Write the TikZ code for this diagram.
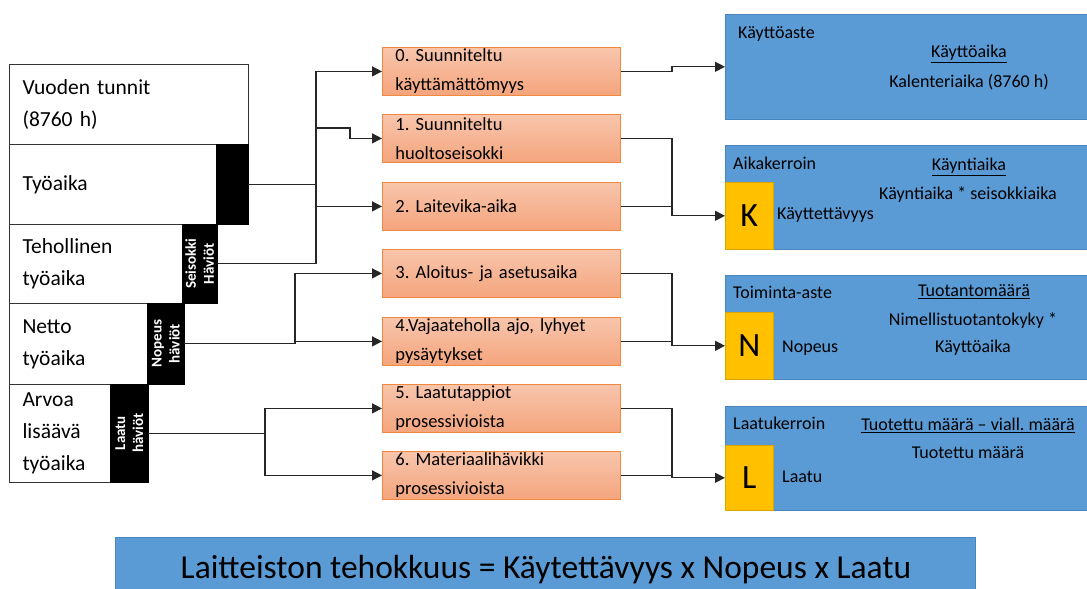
\documentclass[tikz,border=0pt]{standalone}
\usepackage{fontspec}
\setmainfont{Carlito}
\frenchspacing
\usetikzlibrary{arrows.meta}
\definecolor{blueF}{HTML}{5B9BD5}
\definecolor{blueD}{HTML}{4A86BE}
\definecolor{orangeT}{HTML}{F8C5AC}
\definecolor{orangeB}{HTML}{F4A57D}
\definecolor{orangeD}{HTML}{F0883F}
\definecolor{yellowF}{HTML}{FFC000}
\definecolor{yellowD}{HTML}{D9A300}
\tikzset{
  leftbox/.style={draw=black!80, line width=1pt, fill=white, anchor=north west,
    inner xsep=13pt, inner ysep=0pt, align=left, font=\fontsize{21.5}{32}\selectfont},
  barbox/.style={draw=black, fill=black, anchor=north west, inner sep=0pt},
  bartxt/.style={rotate=90, text=white, align=center, inner sep=0pt,
    font=\fontsize{15}{18}\selectfont\bfseries},
  obox/.style={draw=orangeD, line width=0.8pt, top color=orangeT, bottom color=orangeB,
    minimum width=238pt, minimum height=48pt, anchor=north west, text width=212pt,
    inner xsep=13pt, inner ysep=0pt, align=left, font=\fontsize{18.5}{29}\selectfont},
  bbox/.style={draw=blueD, line width=0.6pt, fill=blueF, anchor=north west,
    minimum width=365pt, minimum height=105pt, inner sep=0pt},
  ybox/.style={draw=yellowD, line width=0.6pt, fill=yellowF, anchor=north west,
    minimum width=48pt, inner sep=0pt, font=\fontsize{34}{34}\selectfont},
  btxt/.style={font=\fontsize{18}{20}\selectfont, inner sep=0pt},
  conn/.style={line width=1.3pt, black!85},
  arr/.style={conn, -{Triangle[length=10pt,width=10pt]}}
}
\begin{document}
\begin{tikzpicture}[x=1pt,y=-1pt]
\useasboundingbox (0,0) rectangle (1087,589);
% left stack
\node[leftbox, minimum width=239pt, minimum height=80pt, text width=213pt] (vt) at (9,64) {Vuoden tunnit\\(8760 h)};
\node[leftbox, minimum width=207pt, minimum height=80pt, text width=181pt] (ty) at (9,144) {Työaika};
\node[leftbox, minimum width=173pt, minimum height=79pt, text width=147pt] (te) at (9,224) {Tehollinen\\työaika};
\node[leftbox, minimum width=138pt, minimum height=81pt, text width=112pt] (ne) at (9,303) {Netto\\työaika};
\node[leftbox, minimum width=101pt, minimum height=98pt, text width=75pt] (ar) at (9,384) {Arvoa\\lisäävä\\työaika};
\node[barbox, minimum width=32pt, minimum height=80pt] (tbar) at (216,144) {};
\node[barbox, minimum width=35pt, minimum height=79pt] (sbar) at (182,224) {};
\node[barbox, minimum width=37pt, minimum height=81pt] (nbar) at (147,303) {};
\node[barbox, minimum width=38pt, minimum height=98pt] (lbar) at (110,384) {};
\node[bartxt] (stxt) at (sbar.center) {Seisokki\\Häviöt};
\node[bartxt] (ntxt) at (nbar.center) {Nopeus\\häviöt};
\node[bartxt] (ltxt) at (lbar.center) {Laatu\\häviöt};
% orange boxes
\node[obox] (o0) at (382,47) {0. Suunniteltu\\käyttämättömyys};
\node[obox] (o1) at (382,114) {1. Suunniteltu\\huoltoseisokki};
\node[obox] (o2) at (382,182) {2. Laitevika-aika};
\node[obox] (o3) at (382,249) {3. Aloitus- ja asetusaika};
\node[obox] (o4) at (382,317) {4.Vajaateholla ajo, lyhyet\\pysäytykset};
\node[obox] (o5) at (382,384) {5. Laatutappiot\\prosessivioista};
\node[obox] (o6) at (382,451) {6. Materiaalihävikki\\prosessivioista};
% blue boxes
\node[bbox] (B1) at (725,14) {};
\node[bbox, minimum height=104pt] (B2) at (725,145) {};
\node[bbox, minimum height=104pt] (B3) at (725,275) {};
\node[bbox, minimum height=104pt] (B4) at (725,406) {};
\node[ybox, minimum height=67pt] (K) at (725,182) {K};
\node[ybox, minimum height=67pt] (N) at (725,312) {N};
\node[ybox, minimum height=65pt] (L) at (725,445) {L};
\node[btxt, anchor=west] (t1a) at (738,34) {Käyttöaste};
\node[btxt] (t1b) at (969,54) {\underline{Käyttöaika}};
\node[btxt] (t1c) at (969,82) {Kalenteriaika (8760 h)};
\node[btxt, anchor=west] (t2a) at (733,163) {Aikakerroin};
\node[btxt] (t2b) at (969,167) {\underline{Käyntiaika}};
\node[btxt] (t2c) at (968,195) {Käyntiaika * seisokkiaika};
\node[btxt, anchor=west] (t2d) at (777,215) {Käyttettävyys};
\node[btxt, anchor=west] (t3a) at (733,292) {Toiminta-aste};
\node[btxt] (t3b) at (974,292) {\underline{Tuotantomäärä}};
\node[btxt] (t3c) at (973,321) {Nimellistuotantokyky *};
\node[btxt] (t3d) at (973,348) {Käyttöaika};
\node[btxt, anchor=west] (t3e) at (782,348) {Nopeus};
\node[btxt, anchor=west] (t4a) at (733,423) {Laatukerroin};
\node[btxt] (t4b) at (968,425) {\underline{Tuotettu määrä – viall. määrä}};
\node[btxt] (t4c) at (968,453) {Tuotettu määrä};
\node[btxt, anchor=west] (t4d) at (782,477) {Laatu};
% bottom box
\node[draw=blueD, line width=0.6pt, fill=blueF, anchor=north west, minimum width=860pt, minimum height=60pt] (eff) at (115,537) {};
\node[inner sep=0pt, font=\fontsize{33.5}{36}\selectfont] (efft) at (546,570) {Laitteiston tehokkuus = Käytettävyys x Nopeus x Laatu};
% junction coordinates
\coordinate (j1) at (316,0);
\coordinate (b1) at (350,128);
\coordinate (j2) at (295,0);
\coordinate (j3) at (265,0);
\coordinate (jR) at (672,0);
% left connectors
\draw[conn] (tbar.east) -- (tbar.east -| j1);
\draw[conn] (sbar.east) -- (sbar.east -| j1);
\draw[conn] (o0.west -| j1) -- (sbar.east -| j1);
\draw[arr] (o0.west -| j1) -- (o0.west);
\draw[arr] (b1 -| j1) -- (b1) |- (o1.west);
\draw[arr] (o2.west -| j1) -- (o2.west);
\draw[conn] (nbar.east) -- (nbar.east -| j2);
\draw[arr] (nbar.east -| j2) |- (o3.west);
\draw[arr] (o4.west -| j2) -- (o4.west);
\draw[conn] (nbar.east -| j2) -- (o4.west -| j2);
\draw[conn] (lbar.east) -- (lbar.east -| j3);
\draw[arr] (lbar.east -| j3) |- (o5.west);
\draw[arr] (lbar.east -| j3) |- (o6.west);
% right connectors
\draw[arr] (o0.east) -- (o0.east -| jR) |- (B1.west);
\draw[arr] (o1.east) -| (jR |- K.west) -- (K.west);
\draw[conn] (o2.east) -- (o2.east -| jR);
\draw[arr] (o3.east) -| (jR |- N.west) -- (N.west);
\draw[conn] (o4.east) -- (o4.east -| jR);
\draw[arr] (o5.east) -| (jR |- L.west) -- (L.west);
\draw[conn] (o6.east) -- (o6.east -| jR);
\end{tikzpicture}
\end{document}
